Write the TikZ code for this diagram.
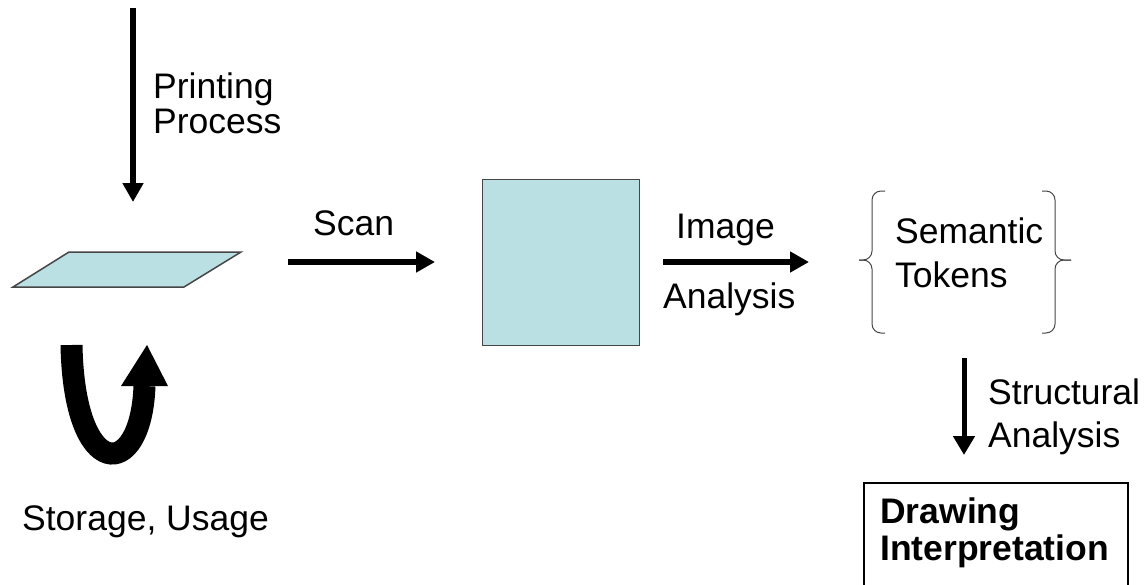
\documentclass[tikz,border=0pt]{standalone}
\usepackage{fontspec}
\setmainfont{Liberation Sans}
\usetikzlibrary{arrows.meta}
\definecolor{paperblue}{RGB}{186,224,227}
\definecolor{edgegray}{RGB}{70,70,70}
\begin{document}
\begin{tikzpicture}[x=1pt,y=-1pt,
  lbl/.style={anchor=base west,inner sep=0pt,font=\fontsize{35.5}{40}\selectfont},
  blbl/.style={lbl,font=\fontsize{35.5}{40}\selectfont\bfseries},
  bigarrow/.style={line width=6.5pt,-{Triangle[length=19pt,width=20pt]}},
  bracestyle/.style={draw=edgegray,line width=1pt,rounded corners=9pt}]
\useasboundingbox[fill=white] (0,0) rectangle (1148,584);

% printing process arrow
\coordinate (pTop) at (133,8);
\coordinate (pBot) at (133,202);
\draw[bigarrow] (pTop) -- (pBot);
\node[lbl] (print1) at (153,98) {Printing};
\node[lbl] (print2) at (153,133) {Process};

% paper
\draw[fill=paperblue,draw=edgegray,line width=1.5pt]
  (13,287) coordinate (paperBL) -- (184,287) -- (241,252) -- (69,252) -- cycle;

% U-turn arrow
\coordinate (uStart) at (71.5,345);
\coordinate (uEnd) at (144.5,386);
\draw[line width=22pt] (uStart) .. controls (74,482) and (141,482) .. (uEnd);
\fill (121,386) -- (168,386) -- (147,345) -- cycle;
\node[lbl] (storage) at (22,530) {Storage, Usage};

% scan arrow
\coordinate (s1) at (288,262);
\coordinate (s2) at (435,262);
\draw[bigarrow] (s1) -- (s2);
\node[lbl] (scan) at (313,235) {Scan};

% image square
\node[draw=edgegray,line width=1pt,fill=paperblue,minimum width=157pt,minimum height=166pt,anchor=north west,inner sep=0pt] (img) at (482,179) {};

% image analysis arrow
\coordinate (a1) at (663,262);
\coordinate (a2) at (809,262);
\draw[bigarrow] (a1) -- (a2);
\node[lbl] (ia1) at (676,238) {Image};
\node[lbl] (ia2) at (663,308) {Analysis};

% braces
\draw[bracestyle] (885,191) -- (872,191) -- (872,260) -- (859,260);
\draw[bracestyle] (885,333) -- (872,333) -- (872,260) -- (859,260);
\draw[bracestyle] (1042,191) -- (1055,191) -- (1055,260) -- (1071,260);
\draw[bracestyle] (1042,333) -- (1055,333) -- (1055,260) -- (1071,260);
\node[lbl] (sem1) at (895,243) {Semantic};
\node[lbl] (sem2) at (895,287) {Tokens};

% structural analysis arrow
\coordinate (t1) at (964,358);
\coordinate (t2) at (964,455);
\draw[line width=5pt,-{Triangle[length=19pt,width=21pt]}] (t1) -- (t2);
\node[lbl] (st1) at (988,404) {Structural};
\node[lbl] (st2) at (988,447) {Analysis};

% drawing interpretation box
\draw[line width=1.5pt] (864,620) -- (864,483) -- (1128,483) -- (1128,620);
\node[blbl] (di1) at (880,523) {Drawing};
\node[blbl] (di2) at (880,560) {Interpretation};
\end{tikzpicture}
\end{document}
